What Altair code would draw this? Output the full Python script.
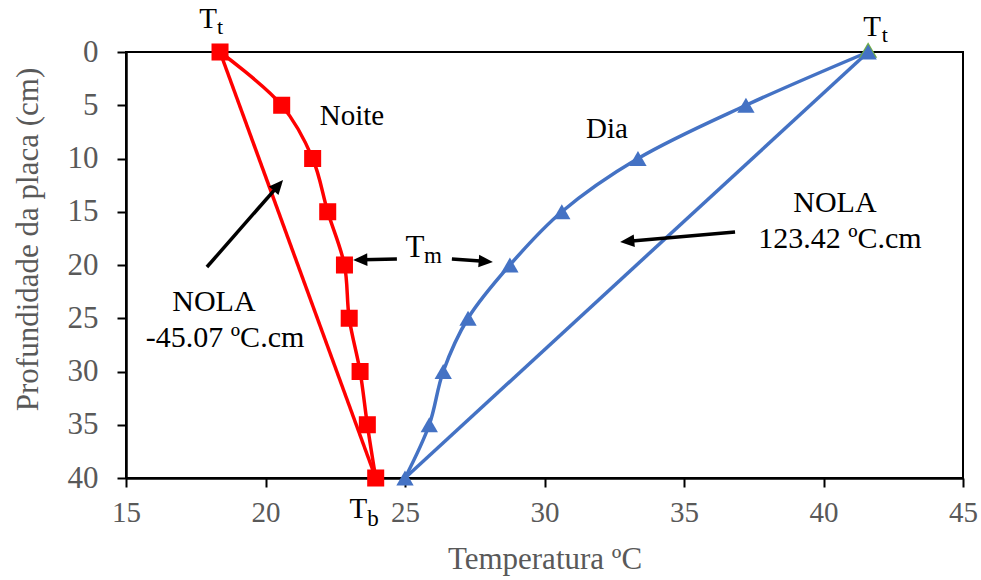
import math
import altair as alt
import pandas as pd

# Temperature profiles through the slab depth
depth = [0, 5, 10, 15, 20, 25, 30, 35, 40]
temp_noite = [18.37, 20.58, 21.69, 22.23, 22.83, 23.00, 23.39, 23.65, 23.95]
temp_dia = [41.60, 37.22, 33.35, 30.62, 28.76, 27.26, 26.37, 25.87, 25.00]

x_ticks = [15, 20, 25, 30, 35, 40, 45]
y_ticks = [0, 5, 10, 15, 20, 25, 30, 35, 40]

# Annotation texts: (text, temperature, depth, font size)
labels = [
    ("T", 17.94, -2.25, 29), ("t", 18.37, -1.69, 22),
    ("T", 41.74, -1.50, 29), ("t", 42.20, -0.94, 22),
    ("T", 23.33, 43.76, 29), ("b", 23.85, 44.51, 23),
    ("T", 25.36, 19.25, 31), ("m", 26.00, 19.81, 23),
    ("Noite", 23.10, 6.85, 29),
    ("Dia", 32.24, 8.08, 29),
    ("NOLA", 40.41, 15.02, 30),
    ("123.42 ºC.cm", 40.59, 18.40, 30),
    ("NOLA", 18.15, 24.32, 30),
    ("-45.07 ºC.cm", 18.55, 27.70, 30),
]

# Arrows: (tail temperature, tail depth, tip temperature, tip depth)
arrows = [
    (17.90, 20.19, 20.63, 12.02),
    (24.71, 19.44, 23.14, 19.53),
    (26.68, 19.44, 28.15, 19.72),
    (36.83, 16.90, 32.71, 17.84),
]

W, H = 837, 426
X_DOM, Y_DOM = [15, 45], [0, 40]
PXX = W / (X_DOM[1] - X_DOM[0])
PXY = H / (Y_DOM[1] - Y_DOM[0])

RED = "#FF0000"
BLUE = "#4472C4"
FONT = "Liberation Serif"

xs = alt.Scale(domain=X_DOM, nice=False, zero=False)
ys = alt.Scale(domain=Y_DOM, nice=False, zero=False, reverse=True)

x_enc = alt.X("temp:Q", scale=xs, axis=alt.Axis(values=x_ticks, title="Temperatura ºC",
                                                 titleY=81, titleBaseline="middle",
                                                 labelFontSize=29))
y_enc = alt.Y("depth:Q", scale=ys, axis=alt.Axis(values=y_ticks, title="Profundidade da placa (cm)",
                                                  titleX=-98, titleY=187, titleAngle=270,
                                                  titleAlign="center", titleBaseline="middle",
                                                  labelFontSize=31))

profiles = pd.DataFrame(
    {"temp": temp_noite + temp_dia,
     "depth": depth + depth,
     "serie": ["Noite"] * len(depth) + ["Dia"] * len(depth)}
)
ref_lines = pd.DataFrame(
    {"temp": [temp_noite[0], temp_noite[-1], temp_dia[0], temp_dia[-1]],
     "depth": [depth[0], depth[-1], depth[0], depth[-1]],
     "serie": ["Noite", "Noite", "Dia", "Dia"]}
)

color = alt.Color("serie:N", scale=alt.Scale(domain=["Noite", "Dia"], range=[RED, BLUE]), legend=None)

straight = alt.Chart(ref_lines).mark_line(strokeWidth=3.5).encode(
    x=x_enc, y=y_enc, color=color, order="depth:Q", detail="serie:N")

curves = alt.Chart(profiles).mark_line(strokeWidth=3.5, interpolate="catmull-rom").encode(
    x=x_enc, y=y_enc, color=color, order="depth:Q", detail="serie:N")

top_mark = alt.Chart(pd.DataFrame({"temp": [temp_dia[0]], "depth": [depth[0]]})).mark_point(
    shape="triangle-up", filled=True, size=330, color="#70AD47", opacity=1, yOffset=-2
).encode(x=alt.X("temp:Q", scale=xs), y=alt.Y("depth:Q", scale=ys))

squares = alt.Chart(profiles[profiles.serie == "Noite"]).mark_point(
    shape="square", filled=True, size=290, color=RED, opacity=1
).encode(x=alt.X("temp:Q", scale=xs), y=alt.Y("depth:Q", scale=ys))

triangles = alt.Chart(profiles[profiles.serie == "Dia"]).mark_point(
    shape="triangle-up", filled=True, size=300, color=BLUE, opacity=1
).encode(x=alt.X("temp:Q", scale=xs), y=alt.Y("depth:Q", scale=ys))

lab_df = pd.DataFrame(labels, columns=["text", "temp", "depth", "fs"])
texts = alt.Chart(lab_df).mark_text(font=FONT, color="black", baseline="alphabetic", align="center").encode(
    x=alt.X("temp:Q", scale=xs), y=alt.Y("depth:Q", scale=ys),
    text="text:N", size=alt.Size("fs:Q", scale=None, legend=None))

# Arrow shafts stop short of the tip; the head is a filled triangle rotated along the shaft
rows = []
for x0, y0, x1, y1 in arrows:
    dx, dy = (x1 - x0) * PXX, (y1 - y0) * PXY
    n = math.hypot(dx, dy)
    ux, uy = dx / n, dy / n
    rows.append({"x0": x0, "y0": y0,
                 "xe": x1 - ux * 9 / PXX, "ye": y1 - uy * 9 / PXY,
                 "x1": x1, "y1": y1,
                 "ang": math.degrees(math.atan2(dx, -dy)) % 360})
arr_df = pd.DataFrame(rows)

shafts = alt.Chart(arr_df).mark_rule(color="black", strokeWidth=3.5).encode(
    x=alt.X("x0:Q", scale=xs), y=alt.Y("y0:Q", scale=ys),
    x2="xe:Q", y2="ye:Q")

heads = alt.Chart(arr_df).mark_point(
    shape="M0,0 L0.8,1.8 L-0.8,1.8 Z", filled=True, size=250, color="black", opacity=1
).encode(x=alt.X("x1:Q", scale=xs), y=alt.Y("y1:Q", scale=ys), angle=alt.Angle("ang:Q", scale=None))

chart = alt.layer(
    straight, curves, top_mark, squares, triangles, shafts, heads, texts
).properties(
    width=W, height=H,
    autosize=alt.AutoSizeParams(type="none"),
    padding={"left": 126, "top": 52, "right": 18, "bottom": 102},
).configure_view(
    stroke="black", strokeWidth=2
).configure_axis(
    grid=False, labelFlush=False,
    labelFont=FONT, labelColor="#595959",
    titleFont=FONT, titleFontSize=31, titleColor="#595959", titleFontWeight="normal",
    domainColor="black", domainWidth=2.5,
    tickColor="black", tickWidth=2, tickSize=9,
).configure_axisX(labelPadding=11).configure_axisY(labelPadding=19)

chart.save("out.html", embed_options={"renderer": "svg", "actions": False})
